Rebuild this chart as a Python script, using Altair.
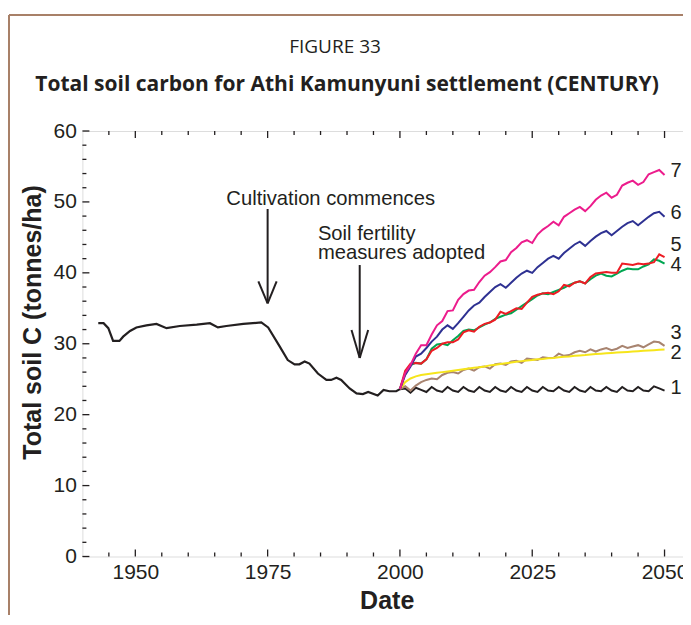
import altair as alt
import pandas as pd

# ---------------- data ----------------
HIST_YEARS = [1943, 1944, 1944.9, 1945.8, 1947, 1947.7, 1949, 1950.2, 1952.1, 1954,
              1955.9, 1958.4, 1961.6, 1964.1, 1965.6, 1967.2, 1970.4, 1973.8, 1975.1,
              1977.3, 1978.8, 1980.1, 1981, 1982, 1982.9, 1984.5, 1986.1, 1987, 1988,
              1988.9, 1990.5, 1991.8, 1993, 1994, 1995.8, 1996.9, 1998, 1999.3, 2000]
HIST_VALUES = [32.9, 32.9, 32.2, 30.4, 30.4, 31.0, 31.8, 32.3, 32.6, 32.8,
               32.2, 32.5, 32.7, 32.9, 32.3, 32.5, 32.8, 33.0, 32.3,
               29.6, 27.7, 27.1, 27.1, 27.5, 27.2, 25.8, 24.9, 24.9, 25.2,
               24.9, 23.7, 23.0, 22.9, 23.2, 22.7, 23.5, 23.3, 23.3, 23.6]

YEARS = list(range(2000, 2051))

S1 = [23.6, 23.7, 23.1, 23.8, 23.5, 23.2, 23.9, 23.4, 23.2, 23.9, 23.4, 23.2, 23.9,
      23.4, 23.2, 23.9, 23.4, 23.2, 23.9, 23.4, 23.2, 23.9, 23.4, 23.2, 23.9, 23.4,
      23.2, 23.9, 23.4, 23.3, 23.9, 23.4, 23.2, 23.9, 23.4, 23.2, 23.9, 23.4, 23.3,
      23.9, 23.4, 23.2, 23.9, 23.4, 23.3, 23.9, 23.4, 23.3, 24.0, 23.7, 23.4]
S2 = [23.6, 24.6, 25.1, 25.4, 25.6, 25.7, 25.8, 25.9, 26.0, 26.1, 26.2, 26.3, 26.4,
      26.5, 26.6, 26.7, 26.8, 26.95, 27.05, 27.15, 27.25, 27.35, 27.45, 27.55, 27.65,
      27.7, 27.8, 27.85, 27.95, 28.0, 28.1, 28.15, 28.2, 28.3, 28.35, 28.4, 28.5,
      28.55, 28.6, 28.65, 28.7, 28.75, 28.8, 28.85, 28.9, 28.95, 29.0, 29.05, 29.1,
      29.15, 29.2]
S3 = [23.6, 24.0, 23.4, 24.1, 24.6, 24.9, 25.1, 25.0, 25.6, 25.9, 26.0, 25.8, 26.3,
      26.5, 26.2, 26.7, 26.8, 26.5, 27.1, 27.2, 27.0, 27.5, 27.6, 27.3, 27.9, 27.8,
      27.7, 28.1, 28.0, 28.0, 28.6, 28.3, 28.4, 28.8, 29.0, 28.8, 29.2, 28.9, 29.2,
      29.4, 29.1, 29.3, 29.7, 29.4, 29.6, 29.8, 29.5, 29.9, 30.3, 30.2, 29.7]
S4 = [23.6, 25.8, 27.0, 27.3, 27.2, 27.8, 29.3, 29.9, 30.0, 29.8, 30.5, 31.1, 31.8,
      32.0, 31.9, 32.3, 32.7, 33.0, 33.5, 33.8, 34.1, 34.3, 34.8, 35.3, 35.8, 36.3,
      36.8, 37.1, 37.0, 37.3, 37.6, 37.9, 38.3, 38.6, 38.8, 38.5, 39.1, 39.6, 39.9,
      39.6, 39.5, 39.9, 40.3, 40.6, 40.5, 40.5, 40.9, 41.2, 41.9, 41.7, 41.3]
S5 = [23.6, 26.2, 27.2, 27.3, 27.2, 27.8, 29.0, 29.4, 30.0, 30.2, 30.2, 30.6, 31.6,
      31.9, 31.7, 32.4, 32.8, 33.0, 33.4, 34.5, 34.2, 34.6, 35.0, 34.9, 35.8, 36.6,
      36.9, 37.1, 37.2, 37.0, 37.4, 38.3, 38.1, 38.6, 38.8, 38.5, 39.4, 39.9, 40.0,
      40.1, 40.0, 40.0, 41.3, 41.2, 41.1, 41.3, 41.2, 41.3, 41.5, 42.6, 42.2]
S6 = [23.6, 25.6, 26.8, 28.2, 28.6, 29.4, 30.3, 31.0, 32.0, 32.6, 32.1, 32.9, 33.8,
      34.7, 35.4, 35.8, 36.6, 37.3, 38.0, 38.4, 37.9, 38.6, 39.3, 39.9, 40.3, 40.0,
      40.8, 41.4, 42.0, 42.4, 42.0, 42.8, 43.4, 44.0, 44.4, 43.8, 44.5, 45.1, 45.6,
      45.9, 45.3, 45.9, 46.5, 47.0, 47.3, 46.7, 47.3, 47.9, 48.4, 48.6, 47.9]
S7 = [23.6, 25.9, 27.0, 28.6, 29.8, 29.8, 31.3, 32.6, 33.2, 34.6, 34.7, 36.2, 37.0,
      37.5, 37.6, 38.7, 39.6, 40.1, 40.8, 41.6, 41.8, 42.9, 43.5, 44.3, 44.6, 44.2,
      45.4, 46.1, 46.6, 47.2, 46.7, 47.9, 48.4, 48.9, 49.3, 48.7, 49.4, 50.3, 50.9,
      51.3, 50.6, 51.0, 52.3, 52.7, 53.0, 52.4, 52.8, 53.9, 54.2, 54.5, 53.8]

SERIES = ["1", "3", "2", "4", "5", "6", "7"]          # drawing order
SERIES_VALUES = {"1": S1, "2": S2, "3": S3, "4": S4, "5": S5, "6": S6, "7": S7}
SERIES_COLORS = {"1": "#231f20", "2": "#f6e51b", "3": "#a88470", "4": "#00a651",
                 "5": "#ed1c24", "6": "#2e3192", "7": "#ec1c8c"}

LABEL_TEXT = ["7", "6", "5", "4", "3", "2", "1"]
LABEL_YEAR = [2052.2] * 7
LABEL_VALUE = [54.3, 48.4, 43.9, 41.1, 31.5, 28.7, 23.8]

# annotations (data coordinates)
NOTE_TEXT = ["Cultivation commences", "Soil fertility", "measures adopted"]
NOTE_YEAR = [1967.2, 1984.5, 1984.5]
NOTE_VALUE = [50.4, 45.5, 42.8]

ARROW_X = [1975.0, 1992.4]
ARROW_TOP = [49.0, 41.1]
ARROW_TIP = [35.7, 28.0]
ARROW_HEAD_Y = [38.8, 31.95]
ARROW_HEAD_LEFT = [1973.25, 1990.85]
ARROW_HEAD_RIGHT = [1976.7, 1994.0]

TITLE_LINE1 = "FIGURE 33"
TITLE_LINE2 = "Total soil carbon for Athi Kamunyuni settlement (CENTURY)"

X_DOMAIN = [1940, 2055]
Y_DOMAIN = [0, 60]
X_LABELS = [1950, 1975, 2000, 2025, 2050]
Y_LABELS = [0, 10, 20, 30, 40, 50, 60]

# ---------------- layout ----------------
W, H = 608.6, 425.5
INK = "#231f20"
px_x = W / (X_DOMAIN[1] - X_DOMAIN[0])
px_y = H / (Y_DOMAIN[1] - Y_DOMAIN[0])

xscale = alt.Scale(domain=X_DOMAIN, nice=False, zero=False)
yscale = alt.Scale(domain=Y_DOMAIN, nice=False)
xaxis = alt.Axis(values=X_LABELS, format="d", title="Date", ticks=False, tickSize=0,
                 domain=False, grid=False, labelFont="Liberation Sans", labelFontSize=21,
                 labelColor=INK, labelPadding=5, labelFlush=False, labelBound=False,
                 labelOverlap=False,
                 titleFont="Liberation Sans", titleFontSize=25, titleFontWeight="bold",
                 titleColor=INK, titleBaseline="middle", titleY=44)
yaxis = alt.Axis(values=Y_LABELS, format="d", title="Total soil C (tonnes/ha)",
                 ticks=False, tickSize=0, domain=False, grid=False,
                 labelFont="Liberation Sans", labelFontSize=21, labelColor=INK,
                 labelPadding=6, titleFont="Liberation Sans", titleFontSize=25,
                 titleFontWeight="bold", titleColor=INK, titleAngle=-90,
                 titleAlign="center", titleBaseline="middle", titleX=-50, titleY=191)


def X(f):
    return alt.X(f, type="quantitative", scale=xscale, axis=xaxis)


def Y(f):
    return alt.Y(f, type="quantitative", scale=yscale, axis=yaxis)


# inward ticks on all four sides
tick_rows = []
for yr in range(1945, 2056, 5):
    L = (7 if yr in X_LABELS else 4) / px_y
    tick_rows.append(dict(x=yr, x2=yr, y=0, y2=L))
    tick_rows.append(dict(x=yr, x2=yr, y=60, y2=60 - L))
for v in range(0, 61, 2):
    L = (7 if v % 10 == 0 else 4) / px_x
    tick_rows.append(dict(x=1940, x2=1940 + L, y=v, y2=v))
    tick_rows.append(dict(x=2055, x2=2055 - L, y=v, y2=v))
ticks = alt.Chart(pd.DataFrame(tick_rows)).mark_rule(color=INK, strokeWidth=1.3).encode(
    x=X("x"), x2="x2", y=Y("y"), y2="y2")

layers = [ticks]

hist = pd.DataFrame({"year": HIST_YEARS, "value": HIST_VALUES})
layers.append(alt.Chart(hist).mark_line(color=INK, strokeWidth=2.2).encode(
    x=X("year"), y=Y("value")))

for s in SERIES:
    df = pd.DataFrame({"year": YEARS, "value": SERIES_VALUES[s]})
    layers.append(alt.Chart(df).mark_line(color=SERIES_COLORS[s], strokeWidth=2).encode(
        x=X("year"), y=Y("value")))

labels = pd.DataFrame({"t": LABEL_TEXT, "year": LABEL_YEAR, "value": LABEL_VALUE})
layers.append(alt.Chart(labels).mark_text(font="Liberation Sans", fontSize=20, color=INK,
                                          align="center", baseline="middle").encode(
    x=X("year"), y=Y("value"), text="t"))

notes = pd.DataFrame({"t": NOTE_TEXT, "year": NOTE_YEAR, "value": NOTE_VALUE})
layers.append(alt.Chart(notes).mark_text(font="Liberation Sans", fontSize=20.2, color=INK,
                                         align="left", baseline="middle").encode(
    x=X("year"), y=Y("value"), text="t"))

arrow_rows = []
for i in range(len(ARROW_X)):
    arrow_rows.append(dict(x=ARROW_X[i], x2=ARROW_X[i], y=ARROW_TOP[i], y2=ARROW_TIP[i]))
    arrow_rows.append(dict(x=ARROW_HEAD_LEFT[i], x2=ARROW_X[i], y=ARROW_HEAD_Y[i], y2=ARROW_TIP[i]))
    arrow_rows.append(dict(x=ARROW_HEAD_RIGHT[i], x2=ARROW_X[i], y=ARROW_HEAD_Y[i], y2=ARROW_TIP[i]))
layers.append(alt.Chart(pd.DataFrame(arrow_rows)).mark_rule(color=INK, strokeWidth=2).encode(
    x=X("x"), x2="x2", y=Y("y"), y2="y2"))

# figure titles (placed above the plot area)
one = alt.Data(values=[{}])
layers.append(alt.Chart(one).mark_text(text=TITLE_LINE1, font="Open Sans", fontSize=19,
                                       color=INK, align="center", baseline="middle").encode(
    x=alt.value(252.6), y=alt.value(-84)))
layers.append(alt.Chart(one).mark_text(text=TITLE_LINE2, font="Open Sans", fontSize=21,
                                       fontWeight="bold", color=INK, align="center",
                                       baseline="middle").encode(
    x=alt.value(264.6), y=alt.value(-46)))

# decorative brown figure frame
frame_color = "#a88068"
layers.append(alt.Chart(one).mark_rule(color=frame_color, strokeWidth=2).encode(
    x=alt.value(-73.4), x2=alt.value(720), y=alt.value(-116)))
layers.append(alt.Chart(one).mark_rule(color=frame_color, strokeWidth=2).encode(
    x=alt.value(-73.4), y=alt.value(-116), y2=alt.value(600)))

chart = alt.layer(*layers).properties(
    width=W, height=H,
    autosize="none",
    padding={"left": 74.4, "top": 123, "right": -8, "bottom": 58},
).configure_view(stroke=INK, strokeWidth=1.5).configure(background="white")

chart.save("out.html", embed_options={"renderer": "svg", "actions": False})
